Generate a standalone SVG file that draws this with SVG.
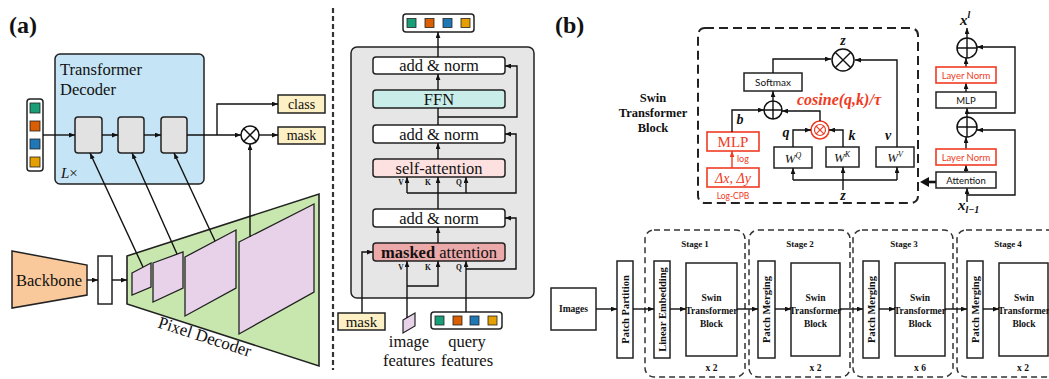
<svg xmlns="http://www.w3.org/2000/svg" width="1049" height="379" viewBox="0 0 1049 379">
<style>
.sf{font-family:"Liberation Serif","DejaVu Serif",serif;fill:#111}
.lbl{font-family:"Liberation Serif",serif;font-weight:bold;font-size:24px;fill:#111}
.t16{font-family:"Liberation Serif",serif;font-size:16.5px;fill:#111}
.bx{stroke:#222;stroke-width:1.5}
.c{fill:none;stroke:#111;stroke-width:1.4}
.cr{fill:none;stroke:#ef3b24;stroke-width:1.4}
.rb{fill:#fff;stroke:#ef3b24;stroke-width:1.6}
.kb{fill:#fff;stroke:#222;stroke-width:1.5}
.sb{font-family:"Liberation Serif",serif;font-weight:bold;fill:#111}
.bi{font-family:"Liberation Serif",serif;font-weight:bold;font-style:italic;fill:#111}
.ss{font-family:Lato,"Liberation Sans",sans-serif;fill:#111}
.red{fill:#ef3b24}
.vkq{font-family:"Liberation Serif",serif;font-weight:bold;font-size:7.5px;fill:#111}
.stg{fill:none;stroke:#333;stroke-width:1.5;stroke-dasharray:6 4}
</style>
<defs>
<marker id="ah" viewBox="0 0 10 8" refX="10" refY="4" markerWidth="6" markerHeight="5" orient="auto" markerUnits="userSpaceOnUse"><path d="M0,0 L10,4 L0,8 z" fill="#111"/></marker>
<marker id="ahr" viewBox="0 0 10 8" refX="10" refY="4" markerWidth="6" markerHeight="5" orient="auto" markerUnits="userSpaceOnUse"><path d="M0,0 L10,4 L0,8 z" fill="#ef3b24"/></marker>
</defs>
<rect width="1049" height="379" fill="#fff"/>

<!-- ===== (a) ===== -->
<text class="lbl" x="9" y="33">(a)</text>

<g id="pixel-decoder">
<polygon points="127,256 319,194 319,366 127,304" fill="#c8e7ae" stroke="#222" stroke-width="1.6"/>
<polygon points="132,273 151,263 151,287 132,295" fill="#e8d2ea" stroke="#222" stroke-width="1.3"/>
<polygon points="153,263 183,252 183,288 153,302" fill="#e8d2ea" stroke="#222" stroke-width="1.3"/>
<polygon points="185,257 236,230 236,288 185,316" fill="#e8d2ea" stroke="#222" stroke-width="1.3"/>
<polygon points="239,242 314,204 314,292 239,334" fill="#e8d2ea" stroke="#222" stroke-width="1.3"/>
<text class="sf" font-size="17" x="203" y="342" text-anchor="middle" transform="rotate(17.9 203 342)">Pixel Decoder</text>
</g>

<g id="transformer-decoder">
<rect x="55" y="54" width="149" height="130" rx="5" fill="#c5e4f5" class="bx"/>
<text class="t16" x="60" y="75">Transformer</text>
<text class="t16" x="60" y="95">Decoder</text>
<text class="sf" font-size="15" x="61" y="178"><tspan font-style="italic">L</tspan>×</text>
<rect x="75" y="117" width="27" height="36" rx="3" fill="#e2e2e2" class="bx"/>
<rect x="118" y="117" width="26" height="36" rx="3" fill="#e2e2e2" class="bx"/>
<rect x="161" y="117" width="26" height="36" rx="3" fill="#e2e2e2" class="bx"/>
</g>

<g id="queries-in">
<rect x="27" y="99" width="16" height="72" rx="3" fill="#fff" class="bx"/>
<rect x="30" y="103" width="10" height="10" fill="#1a9e77" stroke="#222" stroke-width="0.8"/>
<rect x="30" y="121" width="10" height="10" fill="#d95f02" stroke="#222" stroke-width="0.8"/>
<rect x="30" y="139" width="10" height="10" fill="#1f78b4" stroke="#222" stroke-width="0.8"/>
<rect x="30" y="157" width="10" height="10" fill="#e69f00" stroke="#222" stroke-width="0.8"/>
</g>

<g id="class-out">
<rect x="278" y="95" width="47" height="18" fill="#fdf0c4" class="bx"/>
<text class="sf" font-size="14" x="301.5" y="108.5" text-anchor="middle">class</text>
</g>
<g id="mask-out">
<rect x="278" y="127" width="47" height="17" fill="#fdf0c4" class="bx"/>
<text class="sf" font-size="14" x="301.5" y="140" text-anchor="middle">mask</text>
</g>

<g id="otimes-a">
<circle cx="250" cy="135" r="9" fill="#fff" stroke="#111" stroke-width="1.5"/>
<path d="M243.6,128.6 L256.4,141.4 M243.6,141.4 L256.4,128.6" stroke="#111" stroke-width="1.4"/>
</g>

<g id="backbone">
<polygon points="12,251 87,265 87,295 12,308" fill="#f9c99b" stroke="#222" stroke-width="1.5"/>
<text class="sf" font-size="16.5" x="49" y="285.5" text-anchor="middle">Backbone</text>
</g>
<g id="feat-rect">
<rect x="98" y="256" width="14" height="48" fill="#fff" class="bx"/>
</g>

<g id="connectors-a">
<line class="c" x1="43" y1="135" x2="75" y2="135" marker-end="url(#ah)"/>
<line class="c" x1="102" y1="135" x2="118" y2="135" marker-end="url(#ah)"/>
<line class="c" x1="144" y1="135" x2="161" y2="135" marker-end="url(#ah)"/>
<line class="c" x1="187" y1="135" x2="241" y2="135" marker-end="url(#ah)"/>
<path class="c" d="M217,135 V104 H278" marker-end="url(#ah)"/>
<line class="c" x1="259" y1="135" x2="278" y2="135" marker-end="url(#ah)"/>
<line class="c" x1="250" y1="237" x2="250" y2="144" marker-end="url(#ah)"/>
<line class="c" x1="143" y1="267" x2="90" y2="153" marker-end="url(#ah)"/>
<line class="c" x1="177" y1="254" x2="132" y2="153" marker-end="url(#ah)"/>
<line class="c" x1="215" y1="241" x2="174" y2="153" marker-end="url(#ah)"/>
<line class="c" x1="87" y1="280" x2="98" y2="280" marker-end="url(#ah)"/>
<line class="c" x1="112" y1="280" x2="127" y2="280" marker-end="url(#ah)"/>
</g>

<line x1="333" y1="8" x2="333" y2="370" stroke="#333" stroke-width="2.2" stroke-dasharray="5 3"/>

<!-- ===== middle decoder layer ===== -->
<g id="layer-box">
<rect x="351" y="47" width="183" height="251" rx="6" fill="#e6e6e6" class="bx"/>
</g>
<g id="queries-out">
<rect x="403" y="14" width="71" height="18" rx="3" fill="#fff" class="bx"/>
<rect x="407" y="18.5" width="9" height="9" fill="#1a9e77" stroke="#222" stroke-width="0.8"/>
<rect x="425" y="18.5" width="9" height="9" fill="#d95f02" stroke="#222" stroke-width="0.8"/>
<rect x="443" y="18.5" width="9" height="9" fill="#1f78b4" stroke="#222" stroke-width="0.8"/>
<rect x="461" y="18.5" width="9" height="9" fill="#e69f00" stroke="#222" stroke-width="0.8"/>
</g>
<g id="addnorm1"><rect x="373" y="57" width="132" height="17" rx="3" fill="#fff" class="bx"/><text class="t16" x="439" y="70.5" text-anchor="middle">add &amp; norm</text></g>
<g id="ffn"><rect x="373" y="90" width="132" height="18" rx="3" fill="#c9ede9" class="bx"/><text class="t16" x="439" y="104.5" text-anchor="middle">FFN</text></g>
<g id="addnorm2"><rect x="373" y="125" width="132" height="18" rx="3" fill="#fff" class="bx"/><text class="t16" x="439" y="139.5" text-anchor="middle">add &amp; norm</text></g>
<g id="self-attn"><rect x="373" y="159" width="132" height="18" rx="3" fill="#fde1e1" class="bx"/><text class="t16" x="439" y="173.5" text-anchor="middle">self-attention</text>
<text class="vkq" x="401" y="185" text-anchor="middle">V</text><text class="vkq" x="428" y="185" text-anchor="middle">K</text><text class="vkq" x="459" y="185" text-anchor="middle">Q</text></g>
<g id="addnorm3"><rect x="373" y="209" width="132" height="18" rx="3" fill="#fff" class="bx"/><text class="t16" x="439" y="223.5" text-anchor="middle">add &amp; norm</text></g>
<g id="masked-attn"><rect x="373" y="243" width="132" height="18" rx="3" fill="#eba9a9" class="bx"/><text class="t16" x="439" y="257.5" text-anchor="middle"><tspan font-weight="bold">masked</tspan> attention</text>
<text class="vkq" x="401" y="270" text-anchor="middle">V</text><text class="vkq" x="428" y="270" text-anchor="middle">K</text><text class="vkq" x="459" y="270" text-anchor="middle">Q</text></g>

<g id="mask-in">
<rect x="338" y="313" width="47" height="17" fill="#fdf0c4" class="bx"/>
<text class="sf" font-size="15" x="361.5" y="326.5" text-anchor="middle">mask</text>
</g>
<g id="image-features">
<polygon points="403,320 415,313 415,326 403,333" fill="#e8d2ea" stroke="#222" stroke-width="1.2"/>
<text class="t16" x="409" y="347" text-anchor="middle">image</text>
<text class="t16" x="409" y="366" text-anchor="middle">features</text>
</g>
<g id="query-features">
<rect x="431" y="312" width="71" height="17" rx="3" fill="#fff" class="bx"/>
<rect x="435" y="316" width="9" height="9" fill="#1a9e77" stroke="#222" stroke-width="0.8"/>
<rect x="453" y="316" width="9" height="9" fill="#d95f02" stroke="#222" stroke-width="0.8"/>
<rect x="470" y="316" width="9" height="9" fill="#1f78b4" stroke="#222" stroke-width="0.8"/>
<rect x="488" y="316" width="9" height="9" fill="#e69f00" stroke="#222" stroke-width="0.8"/>
<text class="t16" x="467" y="347" text-anchor="middle">query</text>
<text class="t16" x="467" y="366" text-anchor="middle">features</text>
</g>

<g id="connectors-mid">
<line class="c" x1="438" y1="57" x2="438" y2="32" marker-end="url(#ah)"/>
<line class="c" x1="438" y1="90" x2="438" y2="74" marker-end="url(#ah)"/>
<line class="c" x1="438" y1="125" x2="438" y2="108"/>
<path class="c" d="M438,117 H517 V66 H505" marker-end="url(#ah)"/>
<line class="c" x1="438" y1="159" x2="438" y2="143" marker-end="url(#ah)"/>
<path class="c" d="M407,193 H516 V134 H505" marker-end="url(#ah)"/>
<line class="c" x1="407" y1="193" x2="407" y2="177" marker-end="url(#ah)"/>
<line class="c" x1="466" y1="193" x2="466" y2="177" marker-end="url(#ah)"/>
<line class="c" x1="438" y1="209" x2="438" y2="177" marker-end="url(#ah)"/>
<line class="c" x1="438" y1="243" x2="438" y2="227" marker-end="url(#ah)"/>
<path class="c" d="M466,269 H516 V218 H505" marker-end="url(#ah)"/>
<path class="c" d="M362,313 V252 H373" marker-end="url(#ah)"/>
<line class="c" x1="407" y1="318" x2="407" y2="261" marker-end="url(#ah)"/>
<path class="c" d="M407,286 H438 V261" marker-end="url(#ah)"/>
<line class="c" x1="466" y1="312" x2="466" y2="261" marker-end="url(#ah)"/>
</g>

<!-- ===== (b) ===== -->
<text class="lbl" x="555" y="33">(b)</text>
<g id="swin-label">
<text class="sb" font-size="12.5" x="653" y="102" text-anchor="middle">Swin</text>
<text class="sb" font-size="12.5" x="653" y="117" text-anchor="middle">Transformer</text>
<text class="sb" font-size="12.5" x="653" y="132" text-anchor="middle">Block</text>
</g>

<g id="attn-detail">
<rect x="698" y="28" width="220" height="175" rx="7" fill="none" stroke="#222" stroke-width="2" stroke-dasharray="9 5"/>
</g>
<g id="softmax"><rect x="744" y="73" width="58" height="18" class="kb"/><text class="ss" font-size="10" x="773" y="86" text-anchor="middle">Softmax</text></g>
<g id="otimes-z"><circle cx="843" cy="60" r="11" fill="#fff" stroke="#111" stroke-width="1.5"/><path d="M835.2,52.2 L850.8,67.8 M835.2,67.8 L850.8,52.2" stroke="#111" stroke-width="1.4"/><text class="bi" font-size="14" x="843" y="45" text-anchor="middle">z</text></g>
<g id="oplus-b"><circle cx="773" cy="110" r="9" fill="#fff" stroke="#111" stroke-width="1.5"/><path d="M764,110 H782 M773,101 V119" stroke="#111" stroke-width="1.4"/></g>
<g id="cos-otimes"><circle cx="820" cy="130" r="9" fill="#fff" stroke="#ef3b24" stroke-width="1.5"/><circle cx="820" cy="130" r="5.5" fill="none" stroke="#ef3b24" stroke-width="1.2"/><path d="M816.1,126.1 L823.9,133.9 M816.1,133.9 L823.9,126.1" stroke="#ef3b24" stroke-width="1.2"/></g>
<text class="bi red" font-size="16" x="797" y="105">cosine(q,k)/τ</text>
<g id="wq"><rect x="774" y="147" width="38" height="21" class="kb"/><text class="sf" font-size="13" font-style="italic" x="793" y="163" text-anchor="middle">W<tspan font-size="8" dy="-5">Q</tspan></text><text class="bi" font-size="14" x="786" y="137" text-anchor="middle">q</text></g>
<g id="wk"><rect x="826" y="147" width="33" height="20" class="kb"/><text class="sf" font-size="13" font-style="italic" x="842" y="162" text-anchor="middle">W<tspan font-size="8" dy="-5">K</tspan></text><text class="bi" font-size="14" x="852" y="140" text-anchor="middle">k</text></g>
<g id="wv"><rect x="876" y="147" width="38" height="20" class="kb"/><text class="sf" font-size="13" font-style="italic" x="895" y="162" text-anchor="middle">W<tspan font-size="8" dy="-5">V</tspan></text><text class="bi" font-size="14" x="888" y="140" text-anchor="middle">v</text></g>
<g id="mlp-red"><rect x="707" y="132" width="52" height="19" class="rb"/><text class="sf red" font-size="15" x="733" y="147" text-anchor="middle">MLP</text><text class="bi" font-size="14" x="740" y="124" text-anchor="middle">b</text><text class="ss red" font-size="9" x="737" y="162">log</text></g>
<g id="delta-red"><rect x="707" y="168" width="52" height="19" class="rb"/><text class="sf red" font-size="14" font-style="italic" x="733" y="183" text-anchor="middle">Δx, Δy</text><text class="ss red" font-size="8.5" x="733" y="199" text-anchor="middle">Log-CPB</text></g>
<text class="bi" font-size="14" x="843" y="200" text-anchor="middle">z</text>

<g id="connectors-b">
<path class="c" d="M773,73 V59 H831" marker-end="url(#ah)"/>
<path class="c" d="M897,147 V60 H855" marker-end="url(#ah)"/>
<line class="c" x1="773" y1="101" x2="773" y2="91" marker-end="url(#ah)"/>
<path class="c" d="M732,132 V110 H764" marker-end="url(#ah)"/>
<path class="c" d="M820,121 V111 H782" marker-end="url(#ah)"/>
<path class="c" d="M793,147 V130 H811" marker-end="url(#ah)"/>
<path class="c" d="M843,147 V130 H829" marker-end="url(#ah)"/>
<line class="cr" x1="732" y1="168" x2="732" y2="151" marker-end="url(#ahr)"/>
<line class="c" x1="843" y1="190" x2="843" y2="167" marker-end="url(#ah)"/>
<path class="c" d="M793,180 H897"/>
<line class="c" x1="793" y1="180" x2="793" y2="168" marker-end="url(#ah)"/>
<line class="c" x1="897" y1="180" x2="897" y2="167" marker-end="url(#ah)"/>
<line x1="936" y1="182" x2="927" y2="182" stroke="#111" stroke-width="2.6"/>
<polygon points="920,182 929,177 929,187" fill="#111"/>
<line class="c" x1="967" y1="38" x2="967" y2="28" marker-end="url(#ah)"/>
<line class="c" x1="966" y1="67" x2="966" y2="58" marker-end="url(#ah)"/>
<line class="c" x1="966" y1="92" x2="966" y2="83" marker-end="url(#ah)"/>
<line class="c" x1="967" y1="117" x2="967" y2="108" marker-end="url(#ah)"/>
<path class="c" d="M967,113 H1015 V47 H977" marker-end="url(#ah)"/>
<line class="c" x1="966" y1="149" x2="966" y2="137" marker-end="url(#ah)"/>
<line class="c" x1="966" y1="172" x2="966" y2="165" marker-end="url(#ah)"/>
<path class="c" d="M967,195 H1015 V130 H977" marker-end="url(#ah)"/>
<line class="c" x1="967" y1="202" x2="967" y2="188" marker-end="url(#ah)"/>
</g>

<g id="block-col">
<text class="bi" font-size="15" x="960" y="25">x<tspan font-size="10" dy="-7">l</tspan></text>
<circle cx="967" cy="48" r="10" fill="#fff" stroke="#111" stroke-width="1.5"/><path d="M957,48 H977 M967,38 V58" stroke="#111" stroke-width="1.4"/>
<rect x="936" y="67" width="60" height="16" class="rb"/><text class="ss red" font-size="9.5" x="966" y="79" text-anchor="middle">Layer Norm</text>
<rect x="936" y="92" width="60" height="16" class="kb"/><text class="ss" font-size="9.5" x="966" y="104" text-anchor="middle">MLP</text>
<circle cx="967" cy="127" r="10" fill="#fff" stroke="#111" stroke-width="1.5"/><path d="M957,127 H977 M967,117 V137" stroke="#111" stroke-width="1.4"/>
<rect x="936" y="149" width="60" height="16" class="rb"/><text class="ss red" font-size="9.5" x="966" y="161" text-anchor="middle">Layer Norm</text>
<rect x="936" y="172" width="60" height="16" class="kb"/><text class="ss" font-size="9.5" x="966" y="184" text-anchor="middle">Attention</text>
<text class="bi" font-size="15" x="958" y="210">x<tspan font-size="10" dy="3">l−1</tspan></text>
</g>

<!-- stages -->
<g id="images"><rect x="551" y="288" width="45" height="42" class="kb"/><text class="sb" font-size="9.5" x="573.5" y="312" text-anchor="middle">Images</text></g>
<g id="patch-partition"><rect x="617" y="261" width="16" height="97" class="kb"/><text class="sb" font-size="10.5" transform="translate(628.5,309.5) rotate(-90)" text-anchor="middle">Patch Partition</text></g>

<g id="stage1">
<rect x="645" y="230" width="100" height="147" rx="9" class="stg"/>
<text class="sb" font-size="9" x="695" y="247" text-anchor="middle">Stage 1</text>
<rect x="654" y="261" width="16" height="97" class="kb"/><text class="sb" font-size="10.5" transform="translate(665.5,309.5) rotate(-90)" text-anchor="middle">Linear Embedding</text>
<rect x="686" y="263" width="51" height="93" class="kb"/>
<text class="sb" font-size="9.5" x="711.5" y="301" text-anchor="middle">Swin</text><text class="sb" font-size="9.5" x="711.5" y="314" text-anchor="middle">Transformer</text><text class="sb" font-size="9.5" x="711.5" y="327" text-anchor="middle">Block</text>
<text class="sb" font-size="9.5" x="711.5" y="371" text-anchor="middle">x 2</text>
</g>
<g id="stage2">
<rect x="749" y="230" width="101" height="147" rx="9" class="stg"/>
<text class="sb" font-size="9" x="800" y="247" text-anchor="middle">Stage 2</text>
<rect x="758" y="261" width="17" height="97" class="kb"/><text class="sb" font-size="10.5" transform="translate(770,309.5) rotate(-90)" text-anchor="middle">Patch Merging</text>
<rect x="791" y="263" width="49" height="93" class="kb"/>
<text class="sb" font-size="9.5" x="815.5" y="301" text-anchor="middle">Swin</text><text class="sb" font-size="9.5" x="815.5" y="314" text-anchor="middle">Transformer</text><text class="sb" font-size="9.5" x="815.5" y="327" text-anchor="middle">Block</text>
<text class="sb" font-size="9.5" x="815.5" y="371" text-anchor="middle">x 2</text>
</g>
<g id="stage3">
<rect x="853" y="230" width="100" height="147" rx="9" class="stg"/>
<text class="sb" font-size="9" x="904" y="247" text-anchor="middle">Stage 3</text>
<rect x="863" y="261" width="16" height="97" class="kb"/><text class="sb" font-size="10.5" transform="translate(874.5,309.5) rotate(-90)" text-anchor="middle">Patch Merging</text>
<rect x="895" y="263" width="50" height="93" class="kb"/>
<text class="sb" font-size="9.5" x="920" y="301" text-anchor="middle">Swin</text><text class="sb" font-size="9.5" x="920" y="314" text-anchor="middle">Transformer</text><text class="sb" font-size="9.5" x="920" y="327" text-anchor="middle">Block</text>
<text class="sb" font-size="9.5" x="920" y="371" text-anchor="middle">x 6</text>
</g>
<g id="stage4">
<rect x="957" y="230" width="100" height="147" rx="9" class="stg"/>
<text class="sb" font-size="9" x="1008" y="247" text-anchor="middle">Stage 4</text>
<rect x="967" y="261" width="16" height="97" class="kb"/><text class="sb" font-size="10.5" transform="translate(978.5,309.5) rotate(-90)" text-anchor="middle">Patch Merging</text>
<rect x="999" y="263" width="49" height="93" class="kb"/>
<text class="sb" font-size="9.5" x="1024" y="301" text-anchor="middle">Swin</text><text class="sb" font-size="9.5" x="1024" y="314" text-anchor="middle">Transformer</text><text class="sb" font-size="9.5" x="1024" y="327" text-anchor="middle">Block</text>
<text class="sb" font-size="9.5" x="1023" y="371" text-anchor="middle">x 2</text>
</g>

<g id="connectors-stages">
<line class="c" x1="596" y1="309" x2="617" y2="309" marker-end="url(#ah)"/>
<line class="c" x1="633" y1="309" x2="654" y2="309" marker-end="url(#ah)"/>
<line class="c" x1="670" y1="309" x2="686" y2="309" marker-end="url(#ah)"/>
<line class="c" x1="737" y1="309" x2="758" y2="309" marker-end="url(#ah)"/>
<line class="c" x1="775" y1="309" x2="791" y2="309" marker-end="url(#ah)"/>
<line class="c" x1="840" y1="309" x2="863" y2="309" marker-end="url(#ah)"/>
<line class="c" x1="879" y1="309" x2="895" y2="309" marker-end="url(#ah)"/>
<line class="c" x1="945" y1="309" x2="967" y2="309" marker-end="url(#ah)"/>
<line class="c" x1="983" y1="309" x2="999" y2="309" marker-end="url(#ah)"/>
</g>
</svg>
